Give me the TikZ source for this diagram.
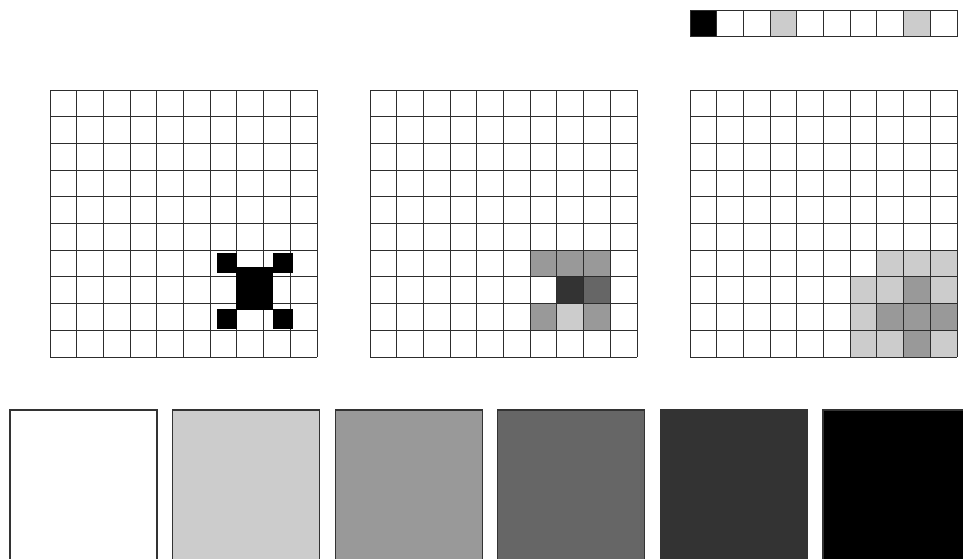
\documentclass[tikz,border=0pt]{standalone}
\usepackage{tikz}
\usepackage{xcolor}
\definecolor{pxlight}{RGB}{204,204,204}
\definecolor{pxmid}{RGB}{153,153,153}
\definecolor{pxdark}{RGB}{102,102,102}
\definecolor{pxdeep}{RGB}{51,51,51}
\definecolor{gridgray}{RGB}{45,45,45}
\def\cs{26.7}
\begin{document}
\begin{tikzpicture}[
    x=1pt,y=-1pt,
    cell/.style={draw=gridgray,line width=1pt},
    swatch/.style={draw=black!80,line width=1.1pt},
  ]
    \useasboundingbox (0,0) rectangle (963,558);
    \clip (0,0) rectangle (963,558);
    % kernel strip
    \foreach \i/\col in {0/black,1/white,2/white,3/pxlight,4/white,5/white,6/white,7/white,8/pxlight,9/white}
      \filldraw[cell,fill=\col] (690+\i*\cs,10) rectangle ++(\cs,\cs);
    % shaded cells, middle grid
    \foreach \c/\r/\col in {6/6/pxmid,7/6/pxmid,8/6/pxmid,7/7/pxdeep,8/7/pxdark,6/8/pxmid,7/8/pxlight,8/8/pxmid}
      \fill[\col] (370+\c*\cs,90+\r*\cs) rectangle ++(\cs,\cs);
    % shaded cells, right grid
    \foreach \c/\r/\col in {7/6/pxlight,8/6/pxlight,9/6/pxlight,
                            6/7/pxlight,7/7/pxlight,8/7/pxmid,9/7/pxlight,
                            6/8/pxlight,7/8/pxmid,8/8/pxmid,9/8/pxmid,
                            6/9/pxlight,7/9/pxlight,8/9/pxmid,9/9/pxlight}
      \fill[\col] (690+\c*\cs,90+\r*\cs) rectangle ++(\cs,\cs);
    % the three grids
    \foreach \gx in {50,370,690}
      \foreach \i in {0,...,10} {
        \draw[cell] (\gx+\i*\cs,90) -- (\gx+\i*\cs,357);
        \draw[cell] (\gx,90+\i*\cs) -- (\gx+267,90+\i*\cs);
      }
    % black shape on the left grid
    \fill[black] (236,267) rectangle (273,310);
    \foreach \x in {217,273}
      \foreach \y in {253,309}
        \fill[black] (\x,\y) rectangle ++(20,20);
    % grey level swatches
    \foreach \i/\col in {0/white,1/pxlight,2/pxmid,3/pxdark,4/pxdeep,5/black}
      \filldraw[swatch,fill=\col] (10+\i*162.6,410) rectangle ++(147,160);
  \end{tikzpicture}
\end{document}
